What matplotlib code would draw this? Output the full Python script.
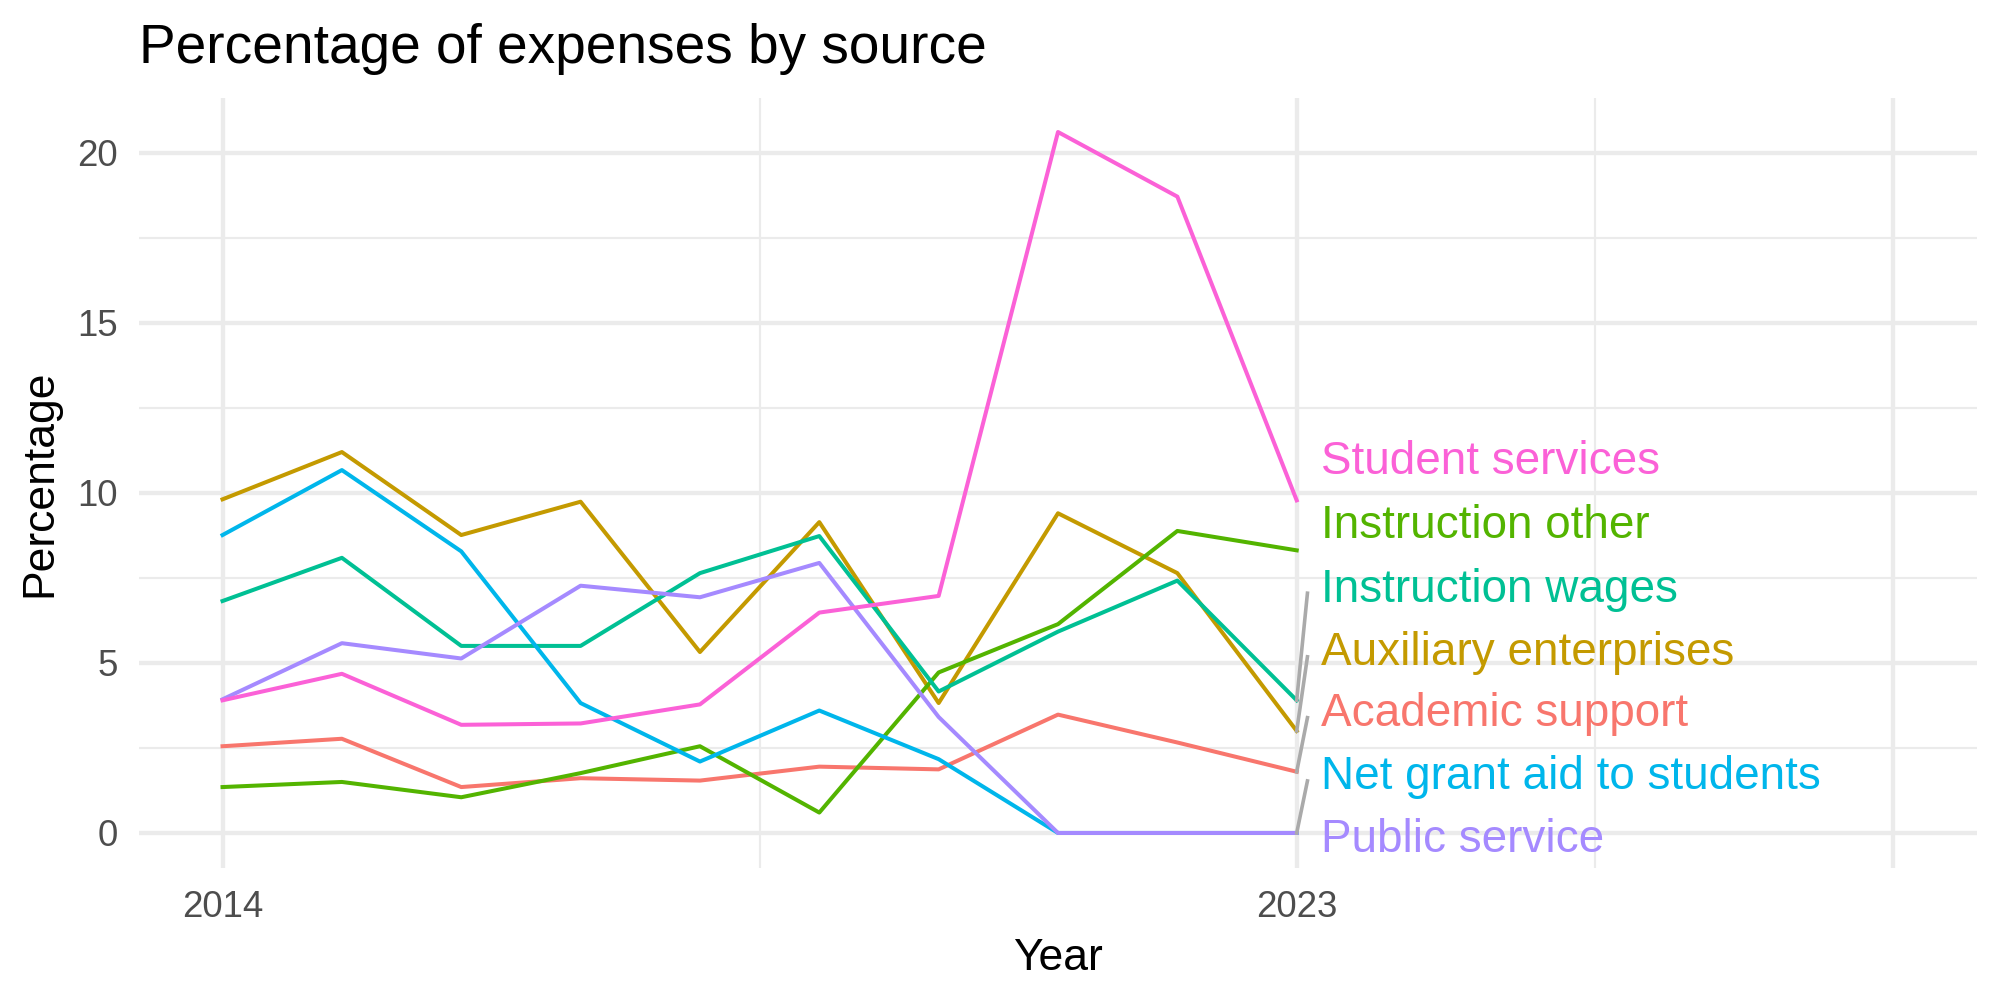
import matplotlib.pyplot as plt

plt.rcParams['font.family'] = ['Liberation Sans', 'DejaVu Sans']

# data
years = [2014, 2015, 2016, 2017, 2018, 2019, 2020, 2021, 2022, 2023]

academic_support = [2.55, 2.77, 1.35, 1.61, 1.54, 1.95, 1.87, 3.48, 2.66, 1.80]
auxiliary_enterprises = [9.81, 11.20, 8.76, 9.74, 5.32, 9.14, 3.82, 9.40, 7.64, 3.00]
instruction_other = [1.35, 1.50, 1.05, 1.76, 2.55, 0.60, 4.72, 6.14, 8.88, 8.31]
instruction_wages = [6.82, 8.09, 5.50, 5.50, 7.64, 8.73, 4.16, 5.92, 7.42, 3.90]
net_grant_aid = [8.76, 10.67, 8.28, 3.82, 2.10, 3.60, 2.17, 0.0, 0.0, 0.0]
public_service = [3.93, 5.58, 5.13, 7.27, 6.93, 7.94, 3.41, 0.0, 0.0, 0.0]
student_services = [3.90, 4.68, 3.18, 3.22, 3.78, 6.48, 6.97, 20.61, 18.71, 9.78]

series_names = ['Academic support', 'Auxiliary enterprises', 'Instruction other',
                'Instruction wages', 'Net grant aid to students', 'Public service',
                'Student services']
series_values = [academic_support, auxiliary_enterprises, instruction_other,
                 instruction_wages, net_grant_aid, public_service, student_services]
colors = ['#F8766D', '#C49A00', '#53B400', '#00C094', '#00B6EB', '#A58AFF', '#FB61D7']

# where the repelled labels ended up (baseline, data units)
label_x = 2023.2
label_y = [3.14, 4.93, 8.68, 6.80, 1.28, -0.55, 10.56]

fig = plt.figure(figsize=(10, 5), dpi=200)
ax = fig.add_axes([0.0695, 0.132, 0.9885 - 0.0695, 0.902 - 0.132])

# grid like theme_minimal
for gx in [2014, 2023, 2028]:
    ax.axvline(gx, color='#EBEBEB', lw=1.55, zorder=0)
for gx in [2018.5, 2025.5]:
    ax.axvline(gx, color='#EBEBEB', lw=0.78, zorder=0)
for gy in [0, 5, 10, 15, 20]:
    ax.axhline(gy, color='#EBEBEB', lw=1.55, zorder=0)
for gy in [2.5, 7.5, 12.5, 17.5]:
    ax.axhline(gy, color='#EBEBEB', lw=0.78, zorder=0)

for name, vals, col, ly in zip(series_names, series_values, colors, label_y):
    ax.plot(years, vals, color=col, lw=1.45, solid_joinstyle='round', zorder=2)
    end = vals[-1]
    # segment only when the label sits away from the line end
    if end < ly - 0.8 or end > ly + 1.3:
        ax.plot([years[-1], label_x - 0.11], [end, ly + 0.25],
                color='#AAAAAA', lw=1.3, zorder=3)
    ax.text(label_x, ly, name, color=col, fontsize=16.5, ha='left', va='baseline', zorder=4)

ax.set_xlim(2013.3, 2028.7)
ax.set_ylim(-1.03, 21.61)
ax.set_xticks([2014, 2023])
ax.set_yticks([0, 5, 10, 15, 20])
ax.tick_params(length=0, labelsize=13.2, labelcolor='#4D4D4D')
ax.tick_params(axis='y', pad=7.5)
ax.tick_params(axis='x', pad=8)
for s in ax.spines.values():
    s.set_visible(False)

ax.set_xlabel('Year', fontsize=16, labelpad=4.5)
ax.set_ylabel('Percentage', fontsize=16, labelpad=6)

fig.text(139 / 2000, 1 - 63 / 1000, 'Percentage of expenses by source',
         fontsize=19.8, ha='left', va='baseline')

fig.savefig('out.png', dpi=200)
